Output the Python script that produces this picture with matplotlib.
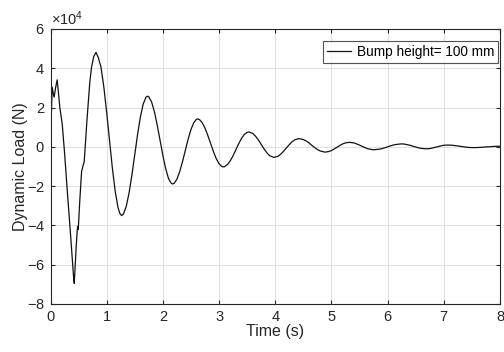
import matplotlib
matplotlib.use("Agg")
import matplotlib.pyplot as plt
from matplotlib.ticker import ScalarFormatter

plt.rcParams['font.family'] = ['Liberation Sans', 'DejaVu Sans']
plt.rcParams['mathtext.fontset'] = 'custom'
plt.rcParams['mathtext.rm'] = 'Liberation Sans'

# Time (s)
time_s = [
    0.0, 0.01, 0.03, 0.05, 0.065, 0.09, 0.118, 0.14, 0.166, 0.208,
    0.25, 0.3, 0.35, 0.39, 0.41, 0.422, 0.435, 0.455, 0.476, 0.486,
    0.494, 0.52, 0.553, 0.58, 0.6, 0.65, 0.7, 0.73, 0.77, 0.81,
    0.85, 0.898, 0.95, 1.0, 1.05, 1.1, 1.15, 1.2, 1.235, 1.267,
    1.3, 1.35, 1.4, 1.45, 1.5, 1.55, 1.6, 1.65, 1.7, 1.726,
    1.75, 1.8, 1.85, 1.9, 1.95, 2.0, 2.05, 2.1, 2.15, 2.172,
    2.2, 2.25, 2.3, 2.35, 2.4, 2.45, 2.5, 2.55, 2.6, 2.618,
    2.65, 2.7, 2.75, 2.8, 2.85, 2.9, 2.95, 3.0, 3.05, 3.075,
    3.1, 3.15, 3.2, 3.25, 3.3, 3.35, 3.4, 3.45, 3.5, 3.53,
    3.6, 3.65, 3.7, 3.75, 3.8, 3.85, 3.9, 3.976,
    4.05, 4.1, 4.15, 4.2, 4.25, 4.3, 4.35, 4.42,
    4.5, 4.55, 4.6, 4.65, 4.7, 4.75, 4.8, 4.886,
    4.95, 5.0, 5.05, 5.1, 5.15, 5.2, 5.25, 5.315,
    5.4, 5.45, 5.5, 5.55, 5.6, 5.65, 5.7, 5.76,
    5.85, 5.9, 5.95, 6.0, 6.05, 6.1, 6.15, 6.24,
    6.3, 6.35, 6.4, 6.45, 6.5, 6.55, 6.6, 6.68,
    6.75, 6.8, 6.85, 6.9, 6.95, 7.0, 7.07,
    7.15, 7.2, 7.25, 7.3, 7.35, 7.4, 7.45, 7.52,
    7.6, 7.65, 7.7, 7.75, 7.8, 7.85, 7.9, 7.95, 8.0,
]

# Dynamic load (x 1e4 N)
load_1e4 = [
    0.0, 1.2, 3.04, 2.7, 2.53, 3.0, 3.41, 2.8, 2.0, 1.18,
    -0.3, -2.3, -4.2, -5.8, -6.6, -6.95, -6.3, -5.2, -4.22, -4.05,
    -4.2, -2.8, -1.26, -0.95, -0.76, 1.4, 3.3, 4.05, 4.6, 4.81,
    4.55, 4.07, 3.03, 1.74, 0.33, -1.05, -2.23, -3.07, -3.40, -3.50,
    -3.41, -3.01, -2.32, -1.41, -0.38, 0.63, 1.52, 2.18, 2.53, 2.58,
    2.55, 2.28, 1.78, 1.10, 0.33, -0.44, -1.11, -1.61, -1.86, -1.89,
    -1.86, -1.65, -1.26, -0.75, -0.18, 0.39, 0.88, 1.23, 1.41, 1.42,
    1.39, 1.23, 0.95, 0.58, 0.17, -0.24, -0.60, -0.86, -1.00, -1.02,
    -1.01, -0.90, -0.71, -0.45, -0.15, 0.16, 0.43, 0.63, 0.74, 0.76,
    0.68, 0.54, 0.35, 0.12, -0.10, -0.30, -0.45, -0.54,
    -0.48, -0.37, -0.22, -0.05, 0.11, 0.26, 0.36, 0.42,
    0.37, 0.30, 0.20, 0.08, -0.03, -0.14, -0.21, -0.27,
    -0.24, -0.19, -0.11, -0.02, 0.07, 0.15, 0.20, 0.23,
    0.20, 0.15, 0.09, 0.02, -0.04, -0.10, -0.13, -0.15,
    -0.12, -0.09, -0.05, 0.0, 0.05, 0.09, 0.12, 0.15,
    0.14, 0.11, 0.08, 0.03, -0.01, -0.05, -0.08, -0.10,
    -0.09, -0.06, -0.02, 0.01, 0.05, 0.08, 0.09,
    0.08, 0.065, 0.045, 0.023, 0.0, -0.018, -0.032, -0.04,
    -0.035, -0.025, -0.01, 0.0, 0.01, 0.02, 0.025, 0.03, 0.03,
]

load_N = [v * 1e4 for v in load_1e4]

legend_label = "Bump height= 100 mm"
x_ticks = [0, 1, 2, 3, 4, 5, 6, 7, 8]
y_ticks = [-8e4, -6e4, -4e4, -2e4, 0, 2e4, 4e4, 6e4]

txt = '#262626'
fig = plt.figure(figsize=(5.04, 3.52), dpi=100)
ax = fig.add_axes([0.1002, 0.1364, 0.8918, 0.7813])

ax.plot(time_s, load_N, color='#111111', linewidth=0.9, label=legend_label)

ax.set_xlim(0, 8)
ax.set_ylim(-8e4, 6e4)
ax.set_xticks(x_ticks)
ax.set_yticks(y_ticks)

fmt = ScalarFormatter(useMathText=True)
fmt.set_powerlimits((0, 0))
ax.yaxis.set_major_formatter(fmt)
ax.yaxis.get_offset_text().set_fontsize(10.5)
ax.yaxis.get_offset_text().set_color(txt)

ax.grid(True, color='#dedede', linewidth=0.7)
ax.set_axisbelow(True)
ax.tick_params(direction='in', length=3, width=0.8, colors=txt,
               labelsize=10.5, top=True, right=True, pad=4)
for s in ax.spines.values():
    s.set_color(txt)
    s.set_linewidth(0.8)

ax.set_xlabel('Time (s)', fontsize=11.5, color=txt, labelpad=0)
ax.set_ylabel('Dynamic Load (N)', fontsize=11.5, color=txt, labelpad=-1)

leg = ax.legend(loc='upper right', bbox_to_anchor=(0.9956, 0.9564),
                fontsize=9.8, frameon=True, fancybox=False,
                edgecolor='#262626', borderaxespad=0.0, handlelength=1.8,
                handletextpad=0.4, borderpad=0.3)
leg.get_frame().set_linewidth(0.8)

fig.savefig('out.png', dpi=100)
